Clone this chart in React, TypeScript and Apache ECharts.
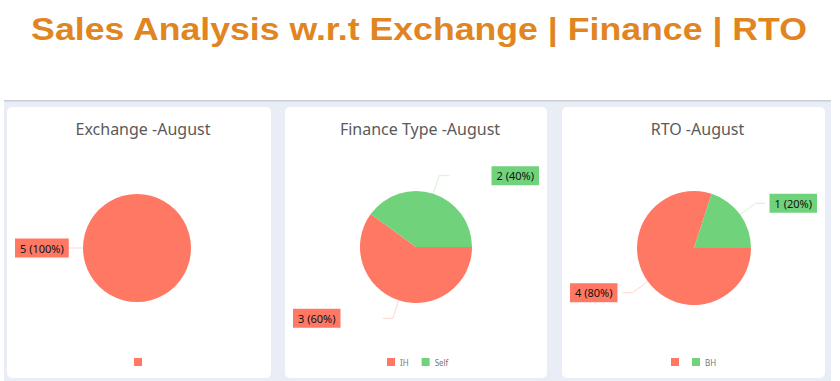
import React, { useEffect, useRef } from "react";
import * as echarts from "echarts";

const mainTitle = "Sales Analysis w.r.t Exchange | Finance | RTO";
const cardTitles = ["Exchange -August", "Finance Type -August", "RTO -August"];

const exchangeNames = ["blankEx"];
const exchangeValues = [5];
const financeNames = ["IH", "Self"];
const financeValues = [3, 2];
const rtoNames = ["blankRto", "BH"];
const rtoValues = [4, 1];

const RED = "#FF7864";
const GREEN = "#70D27A";

const cards = [
  { x: 7, y: 107, w: 264, h: 271 },
  { x: 285, y: 107, w: 262, h: 271 },
  { x: 562, y: 107, w: 263, h: 271 },
];

function buildData(names: string[], values: number[], colors: string[], lineColors: string[]) {
  return names.map((n, i) => ({
    name: n,
    value: values[i],
    itemStyle: { color: colors[i] },
    label: { backgroundColor: colors[i] },
    labelLine: { lineStyle: { color: lineColors[i] } },
  }));
}

export default function App() {
  const ref = useRef<HTMLDivElement>(null);
  useEffect(() => {
    document.body.style.margin = "0";
    const chart = echarts.init(ref.current!, undefined, { renderer: "svg" });
    const lineRed = "rgba(255,120,100,0.3)";
    const lineGreen = "rgba(112,210,122,0.3)";
    const baseSeries = (idx: number, center: number[], radius: number, data: any[]) => ({
      type: "pie",
      left: cards[idx].x,
      top: cards[idx].y,
      width: cards[idx].w,
      height: cards[idx].h,
      center,
      radius,
      startAngle: 0,
      clockwise: true,
      avoidLabelOverlap: false,
      data,
      label: {
        show: true,
        position: "outside",
        formatter: "{c} ({d}%)",
        alignTo: "edge",
        edgeDistance: 8,
        color: "#111",
        fontSize: 11,
        fontWeight: "normal",
        fontFamily: "Noto Sans",
        padding: [4, 5, 4, 5],
      },
      labelLine: { show: true, length: 19, length2: 10, lineStyle: { width: 1 } },
      emphasis: { disabled: true },
    });
    const legendNameFmt = (name: string) => (name.startsWith("blank") ? "" : name);
    const legendBase = {
      top: 358,
      padding: 0,
      itemWidth: 8,
      itemHeight: 8,
      itemGap: 13,
      icon: "rect",
      formatter: legendNameFmt,
      textStyle: { fontSize: 8, color: "#777", fontFamily: "Noto Sans" },
      selectedMode: false,
    };
    chart.setOption({
      animation: false,
      backgroundColor: "#ffffff",
      graphic: [
        { type: "rect", z: -10, shape: { x: 4, y: 101, width: 827, height: 280 }, style: { fill: "#E9EDF5" } },
        { type: "rect", z: -9, shape: { x: 4, y: 100, width: 827, height: 1.5 }, style: { fill: "#C8CDD6" } },
        ...cards.map((c) => ({
          type: "rect",
          z: -8,
          shape: { x: c.x, y: c.y, width: c.w, height: c.h, r: 5 },
          style: { fill: "#ffffff" },
        })),
        {
          type: "text",
          x: 419,
          y: 13,
          scaleX: 1.115,
          style: {
            text: mainTitle,
            font: "bold 32px 'Liberation Sans'",
            fill: "#E0851F",
            textAlign: "center",
            textVerticalAlign: "top",
          },
        },
      ],
      title: cardTitles.map((t, i) => ({
        text: t,
        left: cards[i].x + cards[i].w / 2 - 1,
        textAlign: "center",
        top: 116,
        textStyle: { fontFamily: "Noto Sans", fontWeight: "normal", fontSize: 16, color: "#5a5a5a" },
      })),
      legend: [
        { ...legendBase, left: 134, data: exchangeNames },
        { ...legendBase, left: 387, data: financeNames },
        { ...legendBase, left: 671, data: rtoNames },
      ],
      series: [
        baseSeries(0, [130, 141], 54, buildData(exchangeNames, exchangeValues, [RED], [lineRed])),
        baseSeries(1, [131, 140], 56, buildData(financeNames, financeValues, [RED, GREEN], [lineRed, lineGreen])),
        baseSeries(2, [132, 141], 57, buildData(rtoNames, rtoValues, [RED, GREEN], [lineRed, lineGreen])),
      ],
    });
    return () => chart.dispose();
  }, []);
  return <div ref={ref} style={{ width: 840, height: 381 }} />;
}
